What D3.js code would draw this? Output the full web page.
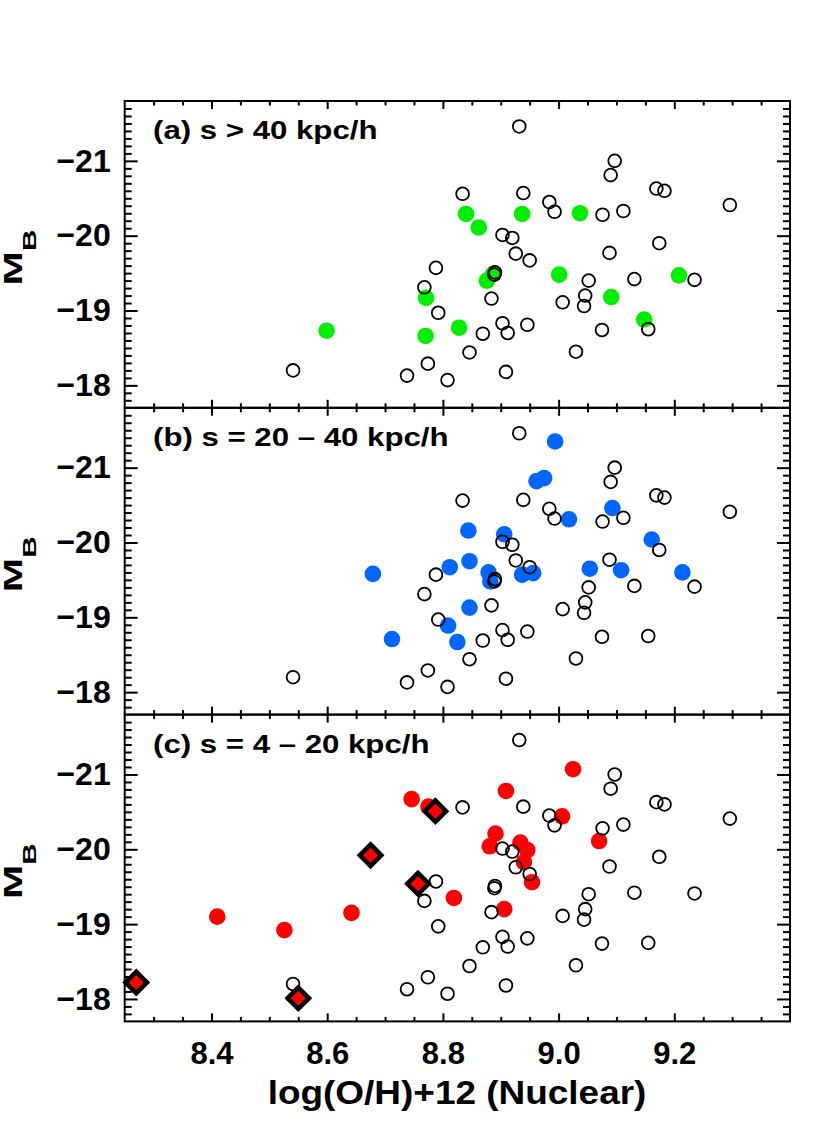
<!DOCTYPE html>
<html>
<head>
<meta charset="utf-8">
<script src="https://cdn.jsdelivr.net/npm/d3@7"></script>
<style>
  body { margin: 0; background: #fff; }
  text { font-family: "Liberation Sans", Arial, Helvetica, sans-serif; font-weight: bold; fill: #000; }
</style>
</head>
<body>
<svg id="chart" width="830" height="1135"></svg>
<script>
// ---- data ----
const xMajorTicks = [8.4, 8.6, 8.8, 9.0, 9.2];
const yMajorTicks = [-21, -20, -19, -18];
const panelLabels = ["(a) s > 40 kpc/h", "(b) s = 20 \u2013 40 kpc/h", "(c) s = 4 \u2013 20 kpc/h"];
const xTitle = "log(O/H)+12 (Nuclear)";

// full sample (open circles), same in every panel: [log(O/H)+12, M_B]
const allGalaxies = [
  [8.932,-21.46],[9.097,-21.00],[9.090,-20.81],[9.169,-20.63],[9.183,-20.60],
  [8.834,-20.56],[8.939,-20.57],[8.984,-20.45],[8.993,-20.32],[9.076,-20.28],
  [9.112,-20.33],[9.296,-20.41],[8.903,-20.01],[8.920,-19.97],[8.926,-19.76],
  [8.950,-19.67],[9.088,-19.77],[9.174,-19.90],[8.788,-19.57],[8.890,-19.51],
  [8.889,-19.48],[9.052,-19.40],[9.131,-19.42],[9.235,-19.41],[8.768,-19.31],
  [8.884,-19.16],[9.046,-19.20],[9.044,-19.06],[9.007,-19.11],[8.792,-18.97],
  [8.903,-18.83],[8.912,-18.70],[8.946,-18.81],[8.869,-18.69],[9.075,-18.74],
  [9.155,-18.75],[8.846,-18.44],[9.030,-18.45],[8.808,-18.07],[8.909,-18.18],
  [8.541,-18.20],[8.774,-18.29],[8.738,-18.13]
];

// (a) s > 40 kpc/h
const wideSep = [
  [8.599,-18.73],[8.771,-19.17],[8.770,-18.66],[8.840,-20.29],[8.828,-18.77],
  [8.862,-20.11],[8.937,-20.29],[9.037,-20.30],[8.876,-19.40],[8.887,-19.49],
  [9.001,-19.48],[9.208,-19.47],[9.091,-19.18],[9.148,-18.88]
];

// (b) s = 20 - 40 kpc/h
const midSep = [
  [8.994,-21.35],[8.962,-20.82],[8.975,-20.86],[9.093,-20.46],[9.018,-20.31],
  [8.844,-20.16],[8.906,-20.11],[9.161,-20.04],[8.846,-19.75],[8.812,-19.67],
  [8.679,-19.58],[8.879,-19.60],[8.882,-19.48],[8.937,-19.57],[8.956,-19.59],
  [9.054,-19.65],[9.108,-19.63],[9.214,-19.60],[8.846,-19.13],[8.809,-18.89],
  [8.712,-18.71],[8.825,-18.67]
];

// (c) s = 4 - 20 kpc/h
const closeSep = [
  [8.746,-20.67],[8.775,-20.57],[8.819,-19.35],[8.410,-19.10],[8.642,-19.15],
  [8.526,-18.92],[9.025,-21.07],[8.909,-20.78],[9.006,-20.44],[9.070,-20.11],
  [8.891,-20.21],[8.881,-20.04],[8.934,-20.09],[8.946,-19.99],[8.940,-19.83],
  [8.954,-19.56],[8.906,-19.20]
];
// (c) highlighted pairs (diamonds)
const closeDiamonds = [
  [8.787,-20.51],[8.675,-19.92],[8.757,-19.54],[8.270,-18.22],[8.550,-18.01]
];

const panelColors = ["#00ee00", "#0066ff", "#ff0000"];
const panelSets = [wideSep, midSep, closeSep];

// ---- layout ----
const mLeft = 124.7, mRight = 790, mTop = 101, panelH = 306.8;
const svg = d3.select("#chart");
svg.append("rect").attr("width", 830).attr("height", 1135).attr("fill", "#fff");

const x = d3.scaleLinear().domain([8.25, 9.4]).range([mLeft, mRight]);
const y = d3.scaleLinear().domain([-17.7, -21.8]).range([panelH, 0]);

const xMinor = d3.range(166, 188).map(v => v * 0.05).filter(v => v > 8.25 && v < 9.4 && Math.abs(v * 5 - Math.round(v * 5)) > 1e-6);
const yMinor = d3.range(-217, -177).map(v => v / 10).filter(v => Math.abs(v - Math.round(v)) > 1e-6);
const fmtY = d => "\u2212" + Math.abs(d);

function styleAxis(sel, fs) {
  sel.select(".domain").remove();
  sel.selectAll(".tick line").attr("stroke", "#000").attr("stroke-width", 2);
  sel.selectAll(".tick text").style("font-size", (fs || 31) + "px").style("font-family", '"Liberation Sans", Arial, sans-serif').style("font-weight", "bold").attr("fill", "#000");
}

panelSets.forEach((set, i) => {
  const g = svg.append("g").attr("transform", `translate(0,${mTop + i * panelH})`);

  // axes: left
  g.append("g").attr("transform", `translate(${mLeft},0)`)
    .call(d3.axisLeft(y).tickValues(yMajorTicks).tickSize(-13).tickPadding(14).tickFormat(fmtY)).call(styleAxis, 32);
  g.append("g").attr("transform", `translate(${mLeft},0)`)
    .call(d3.axisLeft(y).tickValues(yMinor).tickSize(-7).tickFormat("")).call(styleAxis);
  // right
  g.append("g").attr("transform", `translate(${mRight},0)`)
    .call(d3.axisRight(y).tickValues(yMajorTicks).tickSize(-13).tickFormat("")).call(styleAxis);
  g.append("g").attr("transform", `translate(${mRight},0)`)
    .call(d3.axisRight(y).tickValues(yMinor).tickSize(-7).tickFormat("")).call(styleAxis);
  // top
  g.append("g").call(d3.axisTop(x).tickValues(xMajorTicks).tickSize(-8).tickFormat("")).call(styleAxis);
  g.append("g").call(d3.axisTop(x).tickValues(xMinor).tickSize(-4.5).tickFormat("")).call(styleAxis);
  // bottom
  const bot = d3.axisBottom(x).tickValues(xMajorTicks).tickSize(-8).tickPadding(21);
  if (i < 2) bot.tickFormat(""); else bot.tickFormat(d3.format(".1f"));
  g.append("g").attr("transform", `translate(0,${panelH})`).call(bot).call(styleAxis, 31);
  g.append("g").attr("transform", `translate(0,${panelH})`)
    .call(d3.axisBottom(x).tickValues(xMinor).tickSize(-4.5).tickFormat("")).call(styleAxis);

  // colored points
  g.append("g").selectAll("circle").data(set).join("circle")
    .attr("cx", d => x(d[0])).attr("cy", d => y(d[1])).attr("r", 8.3)
    .attr("fill", panelColors[i]);

  // open circles (full sample)
  g.append("g").selectAll("circle").data(allGalaxies).join("circle")
    .attr("cx", d => x(d[0])).attr("cy", d => y(d[1])).attr("r", 6.4)
    .attr("fill", "none").attr("stroke", "#000").attr("stroke-width", 1.8);

  if (i === 2) {
    const sym = d3.symbol(d3.symbolSquare, 230);
    g.append("g").selectAll("path").data(closeDiamonds).join("path")
      .attr("d", sym)
      .attr("transform", d => `translate(${x(d[0])},${y(d[1])}) rotate(45)`)
      .attr("fill", "#ff0000").attr("stroke", "#000").attr("stroke-width", 4.5)
      .attr("stroke-linejoin", "miter");
  }

  // frame
  g.append("rect").attr("x", mLeft).attr("y", 0).attr("width", mRight - mLeft).attr("height", panelH)
    .attr("fill", "none").attr("stroke", "#000").attr("stroke-width", 2);

  // panel label
  g.append("text").attr("transform", `translate(153,38) scale(1.2,1)`)
    .style("font-size", "26px").text(panelLabels[i]);

  // y title M_B
  const t = g.append("text").attr("transform", `translate(22,156.5) rotate(-90) scale(1.65,1)`)
    .attr("text-anchor", "middle");
  t.append("tspan").style("font-size", "25px").text("M");
  t.append("tspan").style("font-size", "18px").attr("dy", 14).text("B");
});

// x title
svg.append("text").attr("transform", `translate(457,1104) scale(1.12,1)`)
  .attr("text-anchor", "middle").style("font-size", "33px").text(xTitle);
</script>
</body>
</html>
